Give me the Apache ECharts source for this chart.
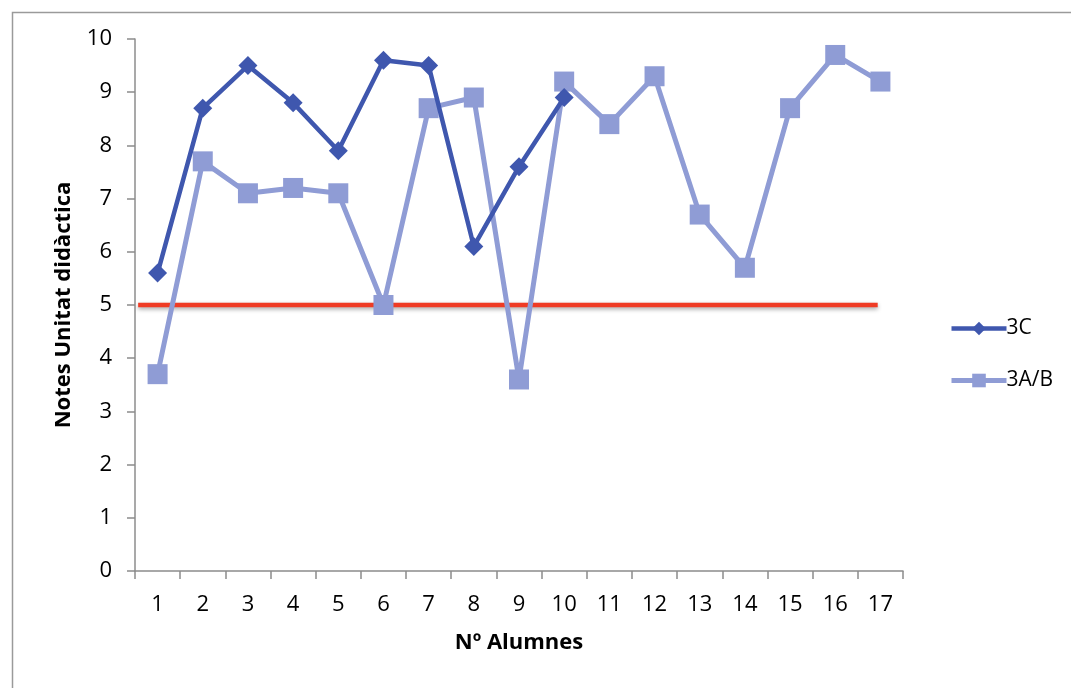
<!DOCTYPE html>
<html>
<head>
<meta charset="utf-8">
<script src="https://cdn.jsdelivr.net/npm/echarts@6/dist/echarts.min.js"></script>
<style>
html,body{margin:0;padding:0;background:#fff;}
#chart{width:1071px;height:688px;}
</style>
</head>
<body>
<div id="chart"></div>
<script>
const categories = ['1','2','3','4','5','6','7','8','9','10','11','12','13','14','15','16','17'];
const serie3C = [5.6, 8.7, 9.5, 8.8, 7.9, 9.6, 9.5, 6.1, 7.6, 8.9];
const serie3AB = [3.7, 7.7, 7.1, 7.2, 7.1, 5.0, 8.7, 8.9, 3.6, 9.2, 8.4, 9.3, 6.7, 5.7, 8.7, 9.7, 9.2];
const yTicks = {min: 0, max: 10, interval: 1};
const passLine = [[0.57, 5], [16.94, 5]];

const FONT = 'Open Sans';
const chart = echarts.init(document.getElementById('chart'), null, {renderer: 'canvas'});
chart.setOption({
  animation: false,
  backgroundColor: '#ffffff',
  textStyle: {fontFamily: FONT, color: '#000'},
  graphic: [{
    type: 'rect', left: 10, top: 10, silent: true,
    shape: {width: 1100, height: 720},
    style: {fill: 'none', stroke: '#9a9a9a', lineWidth: 1.5}
  }],
  grid: {left: 135, top: 39, right: 168, bottom: 117, containLabel: false},
  legend: {
    data: ['3C', '3A/B'],
    orient: 'vertical',
    left: 944, top: 313,
    itemWidth: 55, itemHeight: 17,
    itemGap: 31,
    lineStyle: {width: 'inherit'},
    textStyle: {fontFamily: FONT, fontSize: 21, color: '#000', padding: [0,0,0,-5]}
  },
  xAxis: [{
    type: 'category',
    data: categories,
    boundaryGap: true,
    name: 'Nº Alumnes',
    nameLocation: 'middle',
    nameGap: 61,
    nameTextStyle: {fontFamily: FONT, fontSize: 22, fontWeight: 'bold', color: '#000'},
    axisLine: {lineStyle: {color: '#8c8c8c', width: 1.5}},
    axisTick: {show: true, length: 8, lineStyle: {color: '#8c8c8c', width: 1.5}},
    axisLabel: {fontFamily: FONT, fontSize: 22, color: '#000', margin: 23},
    splitLine: {show: false}
  }, {
    type: 'value', show: false, min: 0.5, max: 17.5
  }],
  yAxis: {
    type: 'value',
    min: yTicks.min, max: yTicks.max, interval: yTicks.interval,
    name: 'Notes Unitat didàctica',
    nameLocation: 'middle',
    nameGap: 60,
    nameTextStyle: {fontFamily: FONT, fontSize: 22, fontWeight: 'bold', color: '#000'},
    axisLine: {show: true, lineStyle: {color: '#8c8c8c', width: 1.5}},
    axisTick: {show: true, length: 8, lineStyle: {color: '#8c8c8c', width: 1.5}},
    axisLabel: {fontFamily: FONT, fontSize: 22, color: '#000', margin: 23},
    splitLine: {show: false}
  },
  series: [{
    name: 'passLine',
    type: 'line',
    xAxisIndex: 1,
    data: passLine,
    symbol: 'none',
    silent: true,
    z: 1,
    lineStyle: {color: '#ef3b24', width: 4.5, shadowColor: 'rgba(0,0,0,0.35)', shadowBlur: 4, shadowOffsetY: 2}
  }, {
    name: '3A/B',
    type: 'line',
    data: serie3AB,
    symbol: 'rect',
    symbolSize: 20,
    color: '#8f9cd5',
    lineStyle: {color: '#8f9cd5', width: 5},
    itemStyle: {color: '#8f9cd5'},
    z: 2
  }, {
    name: '3C',
    type: 'line',
    data: serie3C,
    symbol: 'diamond',
    symbolSize: 19,
    color: '#3f57ae',
    lineStyle: {color: '#3f57ae', width: 4.5},
    itemStyle: {color: '#3f57ae'},
    z: 3
  }]
});
</script>
</body>
</html>
